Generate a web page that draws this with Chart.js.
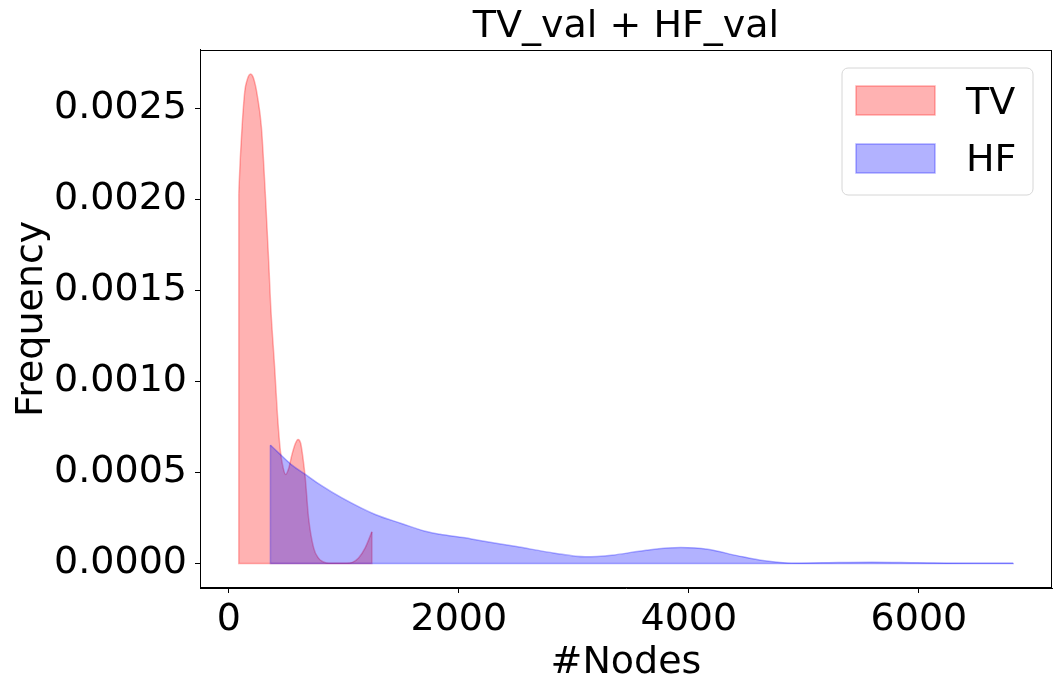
<!DOCTYPE html>
<html>
<head>
<meta charset="utf-8">
<script src="https://cdn.jsdelivr.net/npm/chart.js@4.4.1/dist/chart.umd.min.js"></script>
<style>
  html, body { margin: 0; padding: 0; background: #ffffff; }
  #wrap { width: 1062px; height: 689px; }
</style>
</head>
<body>
<div id="wrap"><canvas id="c" width="1062" height="689"></canvas></div>
<script>
// ---- data ----
const seriesNames = ['TV', 'HF'];
const tvX = [87, 100, 116, 139, 160, 190, 210, 230, 246, 284, 318, 347, 365, 399, 425, 449, 475, 495, 520, 550, 580, 602, 625, 645, 665, 694, 738, 780, 810, 850, 900, 1000, 1050, 1080, 1128, 1186, 1244];
const tvY = [0.00203, 0.00222, 0.00240, 0.00259, 0.002655, 0.002687, 0.002673, 0.00263, 0.002577, 0.002393, 0.002027, 0.001661, 0.00141, 0.001075, 0.00080, 0.000617, 0.00052, 0.000489, 0.00052, 0.000599, 0.00066, 0.000681, 0.00066, 0.00058, 0.00047, 0.00025, 0.000086, 0.00003, 0.000013, 0.000003, 0.000001, 0.000001, 0.000003, 0.000008, 0.00003, 0.000086, 0.000174];
const hfX = [362, 450, 550, 666, 800, 984, 1273, 1500, 1707, 1836, 2054, 2168, 2500, 2833, 3098, 3331, 3630, 3929, 4161, 4427, 4660, 4892, 5158, 5590, 5988, 6486, 6820];
const hfY = [0.00065, 0.000598, 0.00054, 0.000489, 0.00043, 0.00036, 0.000269, 0.00022, 0.000177, 0.000161, 0.000141, 0.000128, 0.0000934, 0.0000568, 0.0000366, 0.0000458, 0.0000733, 0.0000879, 0.0000788, 0.0000421, 0.0000147, 0.000002, 0.000004, 0.000007, 0.000004, 0.000001, 0.000001];
const xTicks = [0, 2000, 4000, 6000];
const yTicks = [0, 0.0005, 0.0010, 0.0015, 0.0020, 0.0025];

const tvColor = 'rgba(255,0,0,0.3)';
const hfColor = 'rgba(0,0,255,0.3)';
const FONT = 'DejaVu Sans';

function pts(xs, ys) { return xs.map((x, i) => ({ x: x, y: ys[i] })); }

// strokes the closing edges (vertical ends + baseline) of each filled area, like a polygon outline
const areaEdges = {
  id: 'areaEdges',
  afterDatasetDraw(chart, args) {
    const d = chart.data.datasets[args.index];
    const xs = chart.scales.x, ys = chart.scales.y;
    const first = d.data[0], last = d.data[d.data.length - 1];
    const ctx = chart.ctx;
    ctx.save();
    ctx.strokeStyle = d.borderColor;
    ctx.lineWidth = 1.5;
    ctx.beginPath();
    ctx.moveTo(xs.getPixelForValue(first.x), ys.getPixelForValue(first.y));
    ctx.lineTo(xs.getPixelForValue(first.x), ys.getPixelForValue(0));
    ctx.lineTo(xs.getPixelForValue(last.x), ys.getPixelForValue(0));
    ctx.lineTo(xs.getPixelForValue(last.x), ys.getPixelForValue(last.y));
    ctx.stroke();
    ctx.restore();
  }
};

const frameAndLegend = {
  id: 'frameAndLegend',
  afterDatasetsDraw(chart) {
    const ctx = chart.ctx;
    const a = chart.chartArea;
    ctx.save();
    ctx.strokeStyle = '#000000';
    ctx.lineWidth = 1;
    ctx.strokeRect(Math.round(a.left) + 0.5, Math.round(a.top) + 0.5,
                   Math.round(a.right - a.left) - 1, Math.round(a.bottom - a.top) - 1);
    const bx = 842, by = 68, bw = 191, bh = 127, r = 6;
    ctx.beginPath();
    ctx.moveTo(bx + r, by);
    ctx.lineTo(bx + bw - r, by);
    ctx.arcTo(bx + bw, by, bx + bw, by + r, r);
    ctx.lineTo(bx + bw, by + bh - r);
    ctx.arcTo(bx + bw, by + bh, bx + bw - r, by + bh, r);
    ctx.lineTo(bx + r, by + bh);
    ctx.arcTo(bx, by + bh, bx, by + bh - r, r);
    ctx.lineTo(bx, by + r);
    ctx.arcTo(bx, by, bx + r, by, r);
    ctx.closePath();
    ctx.fillStyle = 'rgba(255,255,255,0.8)';
    ctx.fill();
    ctx.strokeStyle = '#d6d6d6';
    ctx.lineWidth = 1;
    ctx.stroke();
    const ds = chart.data.datasets;
    const rows = [86, 144];
    const base = [114, 171];
    ds.forEach((d, i) => {
      ctx.fillStyle = d.backgroundColor;
      ctx.fillRect(856, rows[i], 79, 29);
      ctx.strokeStyle = d.borderColor;
      ctx.lineWidth = 1.5;
      ctx.strokeRect(856, rows[i], 79, 29);
      ctx.fillStyle = '#000000';
      ctx.font = '38px "' + FONT + '"';
      ctx.textAlign = 'left';
      ctx.textBaseline = 'alphabetic';
      ctx.fillText(d.label, 966, base[i]);
    });
    ctx.restore();
  }
};

new Chart(document.getElementById('c'), {
  type: 'line',
  data: {
    datasets: [
      { label: seriesNames[0], data: pts(tvX, tvY), backgroundColor: tvColor, borderColor: tvColor,
        borderWidth: 1.5, fill: 'origin', pointRadius: 0, cubicInterpolationMode: 'monotone', order: 1 },
      { label: seriesNames[1], data: pts(hfX, hfY), backgroundColor: hfColor, borderColor: hfColor,
        borderWidth: 1.5, fill: 'origin', pointRadius: 0, cubicInterpolationMode: 'monotone', order: 0 }
    ]
  },
  options: {
    responsive: false,
    animation: false,
    devicePixelRatio: 1,
    layout: { padding: { left: 0, right: 10, top: 0, bottom: 0 } },
    plugins: {
      legend: { display: false },
      tooltip: { enabled: false },
      title: { display: true, fullSize: false, text: 'TV_val + HF_val', color: '#000000',
               font: { family: FONT, size: 38, weight: 'normal' }, padding: { top: 4, bottom: 0 } }
    },
    scales: {
      x: {
        type: 'linear', min: -250, max: 7157,
        afterBuildTicks: s => { s.ticks = xTicks.map(v => ({ value: v })); },
        afterFit: s => { s.height = 101; },
        ticks: { color: '#000000', font: { family: FONT, size: 38 }, padding: 4, maxRotation: 0,
                 callback: v => String(v) },
        grid: { drawOnChartArea: false, drawTicks: true, tickLength: 5, color: '#000000' },
        border: { display: true, color: '#000000', width: 1 },
        title: { display: true, text: '#Nodes', color: '#000000', font: { family: FONT, size: 38 },
                 padding: { top: 3, bottom: 3 } }
      },
      y: {
        type: 'linear', min: -0.0001343, max: 0.0028213,
        afterBuildTicks: s => { s.ticks = yTicks.map(v => ({ value: v })); },
        afterFit: s => { s.width = 200; },
        ticks: { color: '#000000', font: { family: FONT, size: 38 }, padding: 8,
                 callback: v => Number(v).toFixed(4) },
        grid: { drawOnChartArea: false, drawTicks: true, tickLength: 5, color: '#000000' },
        border: { display: true, color: '#000000', width: 1 },
        title: { display: true, text: 'Frequency', color: '#000000', font: { family: FONT, size: 38 },
                 padding: { top: 9, bottom: 9 } }
      }
    }
  },
  plugins: [areaEdges, frameAndLegend]
});
</script>
</body>
</html>
